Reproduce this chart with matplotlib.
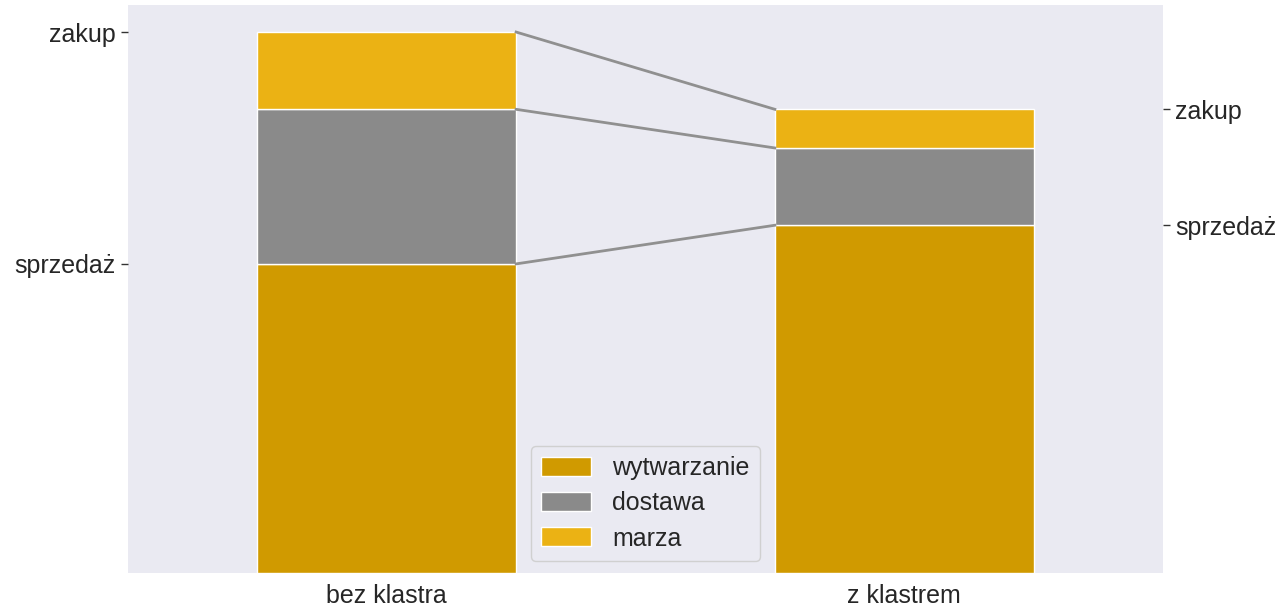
import matplotlib
matplotlib.use("Agg")
import matplotlib.pyplot as plt
import numpy as np

plt.rcParams['font.family'] = ['Liberation Sans', 'DejaVu Sans']

categories = ['bez klastra', 'z klastrem']
wytwarzanie = [4.0, 4.5]
dostawa = [2.0, 1.0]
marza = [1.0, 0.5]
left_ticks = ['sprzedaż', 'zakup']
right_ticks = ['sprzedaż', 'zakup']

colors = {'wytwarzanie': '#D09A00', 'dostawa': '#8A8A8A', 'marza': '#EBB214'}
bg = '#EAEAF2'
fs = 18

fig = plt.figure(figsize=(12.84, 6.08), dpi=100)
ax = fig.add_axes([128 / 1284, 35 / 608, (1163 - 128) / 1284, (573 - 5) / 608])
ax.set_facecolor(bg)
for s in ax.spines.values():
    s.set_visible(False)

x = np.arange(len(categories))
w = 0.5
b1 = np.array(wytwarzanie)
b2 = b1 + np.array(dostawa)
b3 = b2 + np.array(marza)
ax.bar(x, wytwarzanie, w, color=colors['wytwarzanie'], edgecolor='white', linewidth=1, label='wytwarzanie')
ax.bar(x, dostawa, w, bottom=b1, color=colors['dostawa'], edgecolor='white', linewidth=1, label='dostawa')
ax.bar(x, marza, w, bottom=b2, color=colors['marza'], edgecolor='white', linewidth=1, label='marza')

# lines connecting the segment tops
for tops in (b1, b2, b3):
    ax.plot([x[0] + w / 2, x[1] - w / 2], [tops[0], tops[1]], color='#909090', lw=2, zorder=1)

ax.set_xlim(-0.5, 1.5)
ax.set_ylim(0, b3.max() * 1.05)
ax.set_xticks(x)
ax.set_xticklabels(categories, fontsize=fs)
ax.tick_params(axis='x', length=0, pad=8)
ax.set_yticks([b1[0], b3[0]])
ax.set_yticklabels(left_ticks, fontsize=fs)
ax.tick_params(axis='y', length=5, width=1, color='#333333', pad=4)

ax2 = ax.twinx()
for s in ax2.spines.values():
    s.set_visible(False)
ax2.set_ylim(ax.get_ylim())
ax2.set_yticks([b1[1], b3[1]])
ax2.set_yticklabels(right_ticks, fontsize=fs)
ax2.tick_params(axis='y', length=5, width=1, color='#333333', pad=4)

leg = ax.legend(loc='lower center', fontsize=fs, facecolor=bg, edgecolor='#D0D0D0',
                framealpha=1, handlelength=2.0, handleheight=0.8, borderpad=0.4,
                labelspacing=0.45, handletextpad=0.85, borderaxespad=0.5)
for t in leg.get_texts():
    t.set_color('#262626')
for t in ax.get_xticklabels() + ax.get_yticklabels() + ax2.get_yticklabels():
    t.set_color('#262626')

fig.savefig('out.png', dpi=100)
